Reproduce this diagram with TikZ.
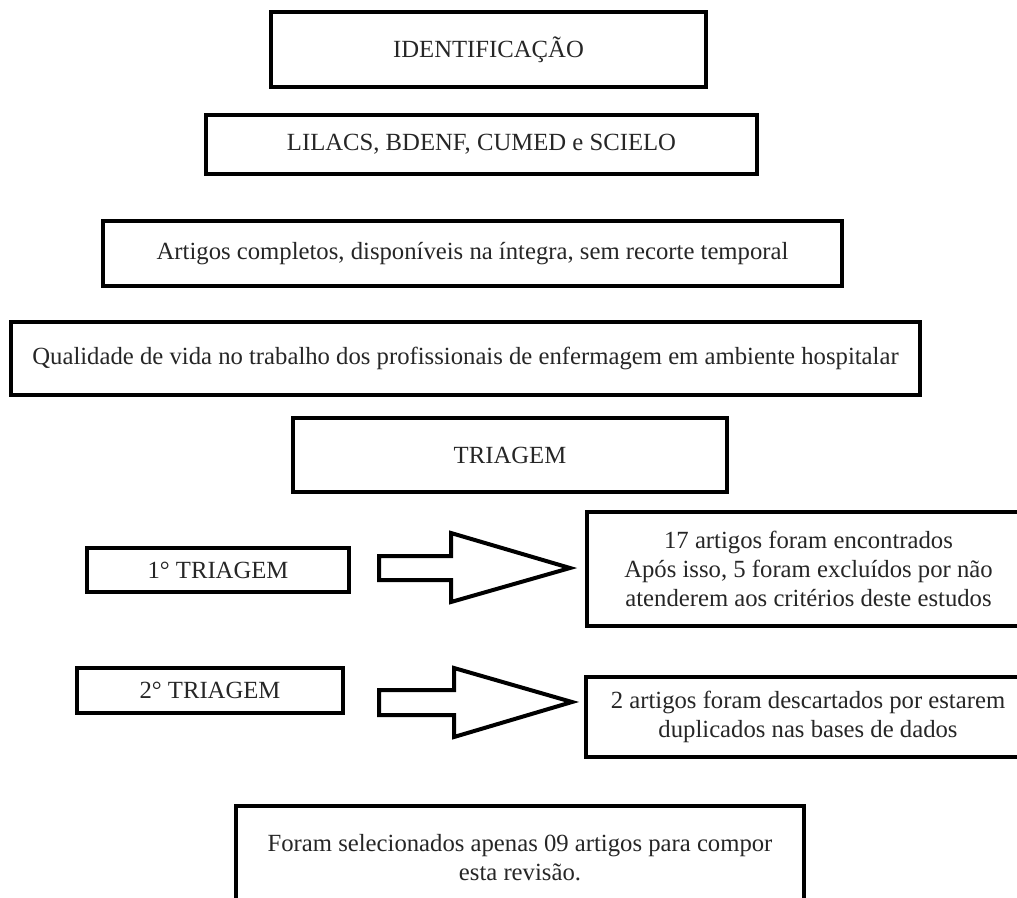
\documentclass[tikz,border=0pt]{standalone}
\usepackage{fontspec}
\setmainfont{Liberation Serif}
\usetikzlibrary{calc}

\begin{document}
\begin{tikzpicture}[x=1pt,y=-1pt,
    box/.style={draw,line width=4pt,align=center,text=black!85,
      font=\fontsize{24.7}{29}\selectfont},
    blockarr/.style={draw,line width=4pt,line join=miter}]
      \useasboundingbox (0,0) rectangle (1017,897);
      \draw
        (488.5,49.5) node[box,minimum width=435pt,minimum height=75pt] (ident){IDENTIFICAÇÃO}
        (481.5,144.5) node[box,minimum width=551pt,minimum height=59pt] (bases){LILACS, BDENF, CUMED e SCIELO}
        (472.5,253.5) node[box,minimum width=739pt,minimum height=65pt] (crit){Artigos completos, disponíveis na íntegra, sem recorte temporal}
        (465.5,358.5) node[box,minimum width=909pt,minimum height=73pt] (tema){Qualidade de vida no trabalho dos profissionais de enfermagem em ambiente hospitalar}
        (510,455) node[box,minimum width=434pt,minimum height=74pt] (triagem){TRIAGEM}
        (218,570) node[box,minimum width=262pt,minimum height=44pt] (tri1){1° TRIAGEM}
        (808.5,569) node[box,minimum width=443pt,minimum height=114pt] (res1){17 artigos foram encontrados\\Após isso, 5 foram excluídos por não\\atenderem aos critérios deste estudos}
        (210,690.5) node[box,minimum width=266pt,minimum height=45pt] (tri2){2° TRIAGEM}
        (808,717) node[box,minimum width=444pt,minimum height=80pt] (res2){2 artigos foram descartados por estarem\\duplicados nas bases de dados}
        (520,858) node[box,minimum width=568pt,minimum height=104pt] (final){Foram selecionados apenas 09 artigos para compor\\esta revisão.};
      % setas entre as triagens e os resultados
      \begin{scope}[blockarr]
        \draw ($(tri1.east)+(28,-14)$) -- ++(72,0) -- ++(0,-23) -- ++(119,35)
          -- ++(-119,34) -- ++(0,-22) -- ++(-72,0) -- cycle;
        \draw ($(tri2.east)+(34,-0.5)$) -- ++(75,0) -- ++(0,-22) -- ++(118,34)
          -- ++(-118,35) -- ++(0,-22) -- ++(-75,0) -- cycle;
      \end{scope}
    \end{tikzpicture}
\end{document}
